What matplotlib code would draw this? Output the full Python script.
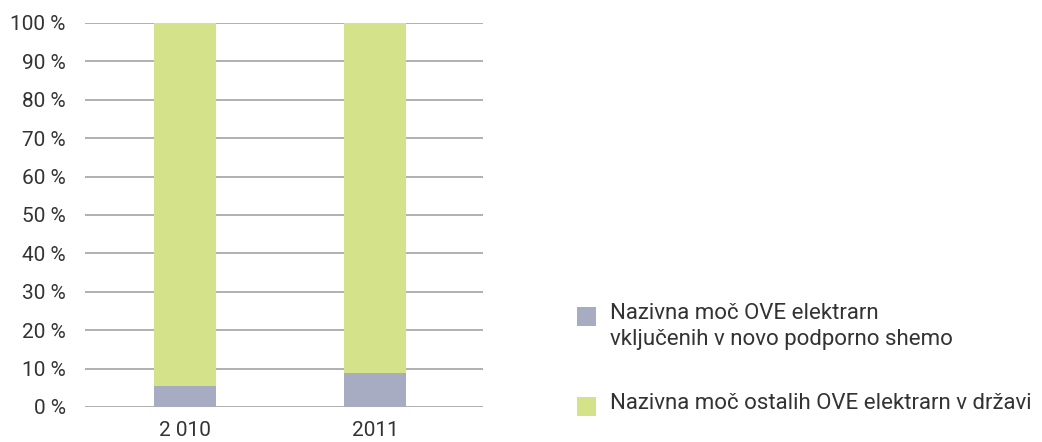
import matplotlib.pyplot as plt
from matplotlib.patches import Rectangle

plt.rcParams['font.family'] = ['Roboto', 'DejaVu Sans']

# data
years = ['2 010', '2011']
share_new = [5.5, 8.9]      # nazivna moč OVE v novi podporni shemi [%]
share_other = [94.5, 91.1]  # ostale OVE elektrarne [%]
labels = ['Nazivna moč OVE elektrarn\nvključenih v novo podporno shemo',
          'Nazivna moč ostalih OVE elektrarn v državi']
colors = ['#a7acc3', '#d4e28a']
yticks = list(range(0, 101, 10))

text_col = '#333333'

fig = plt.figure(figsize=(10.42, 4.42), dpi=100)
ax = fig.add_axes([0.0816, 0.0792, 0.3819, 0.8688])

x = range(len(years))
ax.bar(x, share_new, width=0.326, color=colors[0], zorder=3)
ax.bar(x, share_other, width=0.326, bottom=share_new, color=colors[1], zorder=3)

ax.set_xlim(-0.526, 1.568)
ax.set_ylim(0, 100)
ax.set_yticks(yticks)
ax.set_yticklabels([f'{t} %' for t in yticks])
ax.set_xticks(list(x))
ax.set_xticklabels(years)
ax.tick_params(axis='y', length=0, pad=14, labelsize=15, labelcolor=text_col)
ax.tick_params(axis='x', length=0, pad=10, labelsize=15, labelcolor=text_col)

for t in yticks:
    ax.axhline(t, color='#a3a3a3', lw=1.2, zorder=1)

for s in ax.spines.values():
    s.set_visible(False)

# legend drawn by hand so the square sits on the first line
W, H = 1042.0, 442.0
legend_y = [316, 406]
for c, lab, yc in zip(colors, labels, legend_y):
    fig.add_artist(Rectangle((577 / W, 1 - (yc + 9.5) / H), 19 / W, 19 / H,
                             transform=fig.transFigure, color=c, lw=0))
    fig.text(610 / W, 1 - (yc - 13) / H, lab, fontsize=16, color=text_col,
             va='top', ha='left', linespacing=1.3)

fig.savefig('out.png', dpi=100)
